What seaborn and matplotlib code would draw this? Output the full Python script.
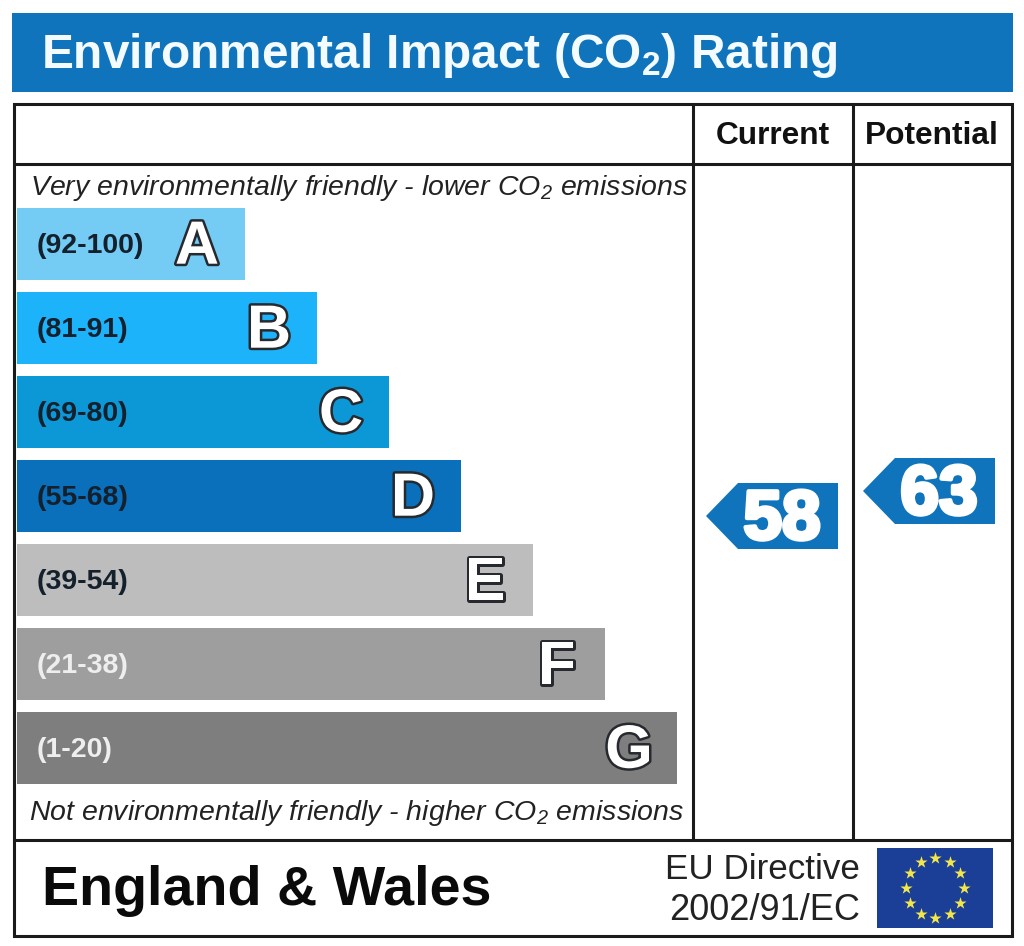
import matplotlib
matplotlib.use("Agg")
import matplotlib.pyplot as plt
import matplotlib.patheffects as pe
from matplotlib.patches import Rectangle, Polygon
import numpy as np
import pandas as pd
import seaborn as sns

# ---- data ----
bands = ["A", "B", "C", "D", "E", "F", "G"]
band_ranges = ["(92-100)", "(81-91)", "(69-80)", "(55-68)", "(39-54)", "(21-38)", "(1-20)"]
bar_lengths = [228, 300, 372, 444, 516, 588, 660]
band_colors = ["#74CBF4", "#1DB3FB", "#0C97D6", "#0A70BB", "#BDBDBD", "#9E9E9E", "#7E7E7E"]
range_text_colors = ["#14202c"] * 5 + ["#EEEEEE", "#EEEEEE"]
rating_columns = ["Current", "Potential"]
rating_values = [58, 63]
title_text = "Environmental Impact (CO$_2$) Rating"
top_note = "Very environmentally friendly - lower CO$_2$ emissions"
bottom_note = "Not environmentally friendly - higher CO$_2$ emissions"
region_text = "England & Wales"
directive_lines = ["EU Directive", "2002/91/EC"]

BLUE = "#0F74BB"
W, H = 1024, 946

sns.set_theme(style="white")
plt.rcParams["font.family"] = ["Liberation Sans", "DejaVu Sans"]
plt.rcParams["mathtext.fontset"] = "custom"
plt.rcParams["mathtext.rm"] = "Liberation Sans"
plt.rcParams["mathtext.it"] = "Liberation Sans:italic"
plt.rcParams["mathtext.bf"] = "Liberation Sans:bold"
plt.rcParams["mathtext.default"] = "regular"

fig = plt.figure(figsize=(W / 100, H / 100), dpi=100, facecolor="white")


def px_axes(x0, y0, x1, y1, z):
    a = fig.add_axes([x0 / W, 1 - y1 / H, (x1 - x0) / W, (y1 - y0) / H], zorder=z)
    a.patch.set_alpha(0)
    return a


# frame / layout layer in pixel units
base = px_axes(0, 0, W, H, 1)
base.set_xlim(0, W)
base.set_ylim(H, 0)
base.axis("off")
base.add_patch(Rectangle((12, 13), 1001, 79, fc=BLUE, ec="none"))
base.text(41, 56, title_text, color="#F4FBFF", fontsize=34.4, fontweight="bold",
          va="center", ha="left")

LW = 2.2
LC = "#1a1a1a"
base.add_patch(Rectangle((13.5, 104.5), 998, 831, fc="none", ec=LC, lw=LW))
base.plot([14, 1011], [164.5, 164.5], color=LC, lw=LW, solid_capstyle="butt")
base.plot([14, 1011], [839.5, 839.5], color=LC, lw=LW, solid_capstyle="butt")
base.plot([693, 693], [105, 839], color=LC, lw=LW, solid_capstyle="butt")
base.plot([853, 853], [105, 839], color=LC, lw=LW, solid_capstyle="butt")

for name, cx in zip(rating_columns, [773, 932]):
    base.text(cx, 136, name, color="#111111", fontsize=22.8, fontweight="bold",
              ha="center", va="center")

base.text(30, 188, top_note, color="#222222", fontsize=20.5, style="italic",
          va="center", ha="left")
base.text(29, 813, bottom_note, color="#222222", fontsize=20.5, style="italic",
          va="center", ha="left")

base.text(42, 891, region_text, color="#0A0A0A", fontsize=40.1, fontweight="bold",
          va="center", ha="left")
base.text(860, 869, directive_lines[0], color="#222222", fontsize=25.2, ha="right", va="center")
base.text(860, 910, directive_lines[1], color="#222222", fontsize=26, ha="right", va="center")

# EU flag
base.add_patch(Rectangle((877, 848), 116, 80, fc="#1B3F97", ec="none"))
ang = np.deg2rad(np.arange(0, 360, 30))
base.scatter(935 + 29 * np.cos(ang), 888 + 30 * np.sin(ang), marker="*", s=85,
             color="#F2E64A", linewidths=0, zorder=3)

# rating bars
bar_ax = px_axes(17, 202, 677, 790, 2)
df = pd.DataFrame({"band": bands, "length": bar_lengths})
sns.barplot(data=df, y="band", x="length", hue="band", order=bands, hue_order=bands,
            palette=band_colors, saturation=1, width=72 / 84, legend=False, ax=bar_ax,
            linewidth=0)
bar_ax.set_xlim(0, 660)
bar_ax.set_ylim(6.5, -0.5)
bar_ax.axis("off")

for i, (letter, rng, length, tc) in enumerate(zip(bands, band_ranges, bar_lengths, range_text_colors)):
    bar_ax.text(20, i + 0.02, rng, color=tc, fontsize=20.5, fontweight="bold", va="center", ha="left")
    bar_ax.text(length - 48, i + 0.05, letter, color="white", fontsize=44, fontweight="bold",
                va="center", ha="center",
                path_effects=[pe.withStroke(linewidth=3.6, foreground="#26292e")])

# current / potential arrows: vertical position follows the rating value
arrow_ax = px_axes(693, 202, 1013, 790, 2)
arrow_ax.set_xlim(693, 1013)
arrow_ax.set_ylim(58 - 274 / 5, 58 + 314 / 5)
arrow_ax.axis("off")
half = 6.6
for val, left in zip(rating_values, [706, 863]):
    arrow_ax.add_patch(Polygon(
        [(left, val), (left + 32, val + half), (left + 132, val + half),
         (left + 132, val - half), (left + 32, val - half)],
        closed=True, fc=BLUE, ec="none"))
    arrow_ax.text(left + 76, val - 1.0, str(val), color="white", fontsize=50, fontweight="bold",
                  va="center", ha="center",
                  path_effects=[pe.withStroke(linewidth=3.0, foreground="white")])

fig.savefig("out.png", dpi=100, facecolor="white")
